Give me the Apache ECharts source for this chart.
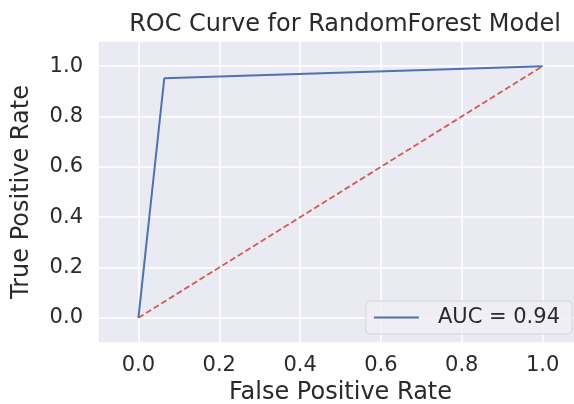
<!DOCTYPE html>
<html>
<head>
<meta charset="utf-8">
<script src="https://cdn.jsdelivr.net/npm/echarts@6/dist/echarts.min.js"></script>
<style>
  html, body { margin: 0; padding: 0; background: #fff; }
  #chart { width: 574px; height: 404px; }
</style>
</head>
<body>
<div id="chart"></div>
<script>
// ROC curve points for the RandomForest classifier
const fpr = [0, 0.064, 1];
const tpr = [0, 0.952, 1];
// chance diagonal
const chanceX = [0, 1];
const chanceY = [0, 1];

// area under the curve (trapezoidal rule)
let auc = 0;
for (let i = 1; i < fpr.length; i++) {
  auc += (fpr[i] - fpr[i - 1]) * (tpr[i] + tpr[i - 1]) / 2;
}
const curveName = 'AUC = ' + auc.toFixed(2);

const textColor = '#2a2a2a';
const font = 'DejaVu Sans';

const chart = echarts.init(document.getElementById('chart'), null, { renderer: 'canvas' });
chart.setOption({
  backgroundColor: '#ffffff',
  animation: false,
  title: {
    text: 'ROC Curve for RandomForest Model',
    left: 340,
    top: 8,
    textAlign: 'center',
    textStyle: { fontFamily: font, fontSize: 24, fontWeight: 'normal', color: textColor }
  },
  grid: {
    left: 98, right: -9, top: 41, bottom: 61,
    outerBoundsMode: 'none',
    containLabel: false,
    show: true, backgroundColor: '#EAEAF2', borderWidth: 0
  },
  xAxis: {
    type: 'value',
    min: -0.1, max: 1.1,
    splitNumber: 5,
    name: 'False Positive Rate',
    nameLocation: 'middle',
    nameGap: 38,
    nameTextStyle: { fontFamily: font, fontSize: 24, color: textColor },
    axisLine: { show: false },
    axisTick: { show: false },
    axisLabel: {
      showMinLabel: false, showMaxLabel: false,
      margin: 12,
      fontFamily: font, fontSize: 21, color: textColor,
      formatter: v => v.toFixed(1)
    },
    splitLine: { show: true, lineStyle: { color: '#ffffff', width: 1.5 } }
  },
  yAxis: {
    type: 'value',
    min: -0.1, max: 1.1,
    splitNumber: 5,
    name: 'True Positive Rate',
    nameLocation: 'middle',
    nameGap: 64,
    nameTextStyle: { fontFamily: font, fontSize: 24, color: textColor },
    axisLine: { show: false },
    axisTick: { show: false },
    axisLabel: {
      showMinLabel: false, showMaxLabel: false,
      margin: 15,
      fontFamily: font, fontSize: 21, color: textColor,
      formatter: v => v.toFixed(1)
    },
    splitLine: { show: true, lineStyle: { color: '#ffffff', width: 1.5 } }
  },
  legend: {
    data: [{ name: curveName, icon: 'rect' }],
    right: 2,
    bottom: 70,
    orient: 'vertical',
    itemWidth: 45,
    itemHeight: 2,
    itemGap: 0,
    padding: [6, 12, 6, 8],
    backgroundColor: 'rgba(238,238,245,0.85)',
    borderColor: '#D4D4DA',
    borderWidth: 1,
    borderRadius: 4,
    textStyle: { fontFamily: font, fontSize: 21, color: textColor, padding: [0, 0, 0, 14] }
  },
  series: [
    {
      name: curveName,
      type: 'line',
      data: fpr.map((x, i) => [x, tpr[i]]),
      symbol: 'none',
      lineStyle: { color: '#4C72B0', width: 2 },
      itemStyle: { color: '#4C72B0' },
      z: 3
    },
    {
      name: 'chance',
      type: 'line',
      data: chanceX.map((x, i) => [x, chanceY[i]]),
      symbol: 'none',
      lineStyle: { color: '#CF5A5C', width: 1.8, type: [6, 3] },
      z: 2
    }
  ]
});
</script>
</body>
</html>
